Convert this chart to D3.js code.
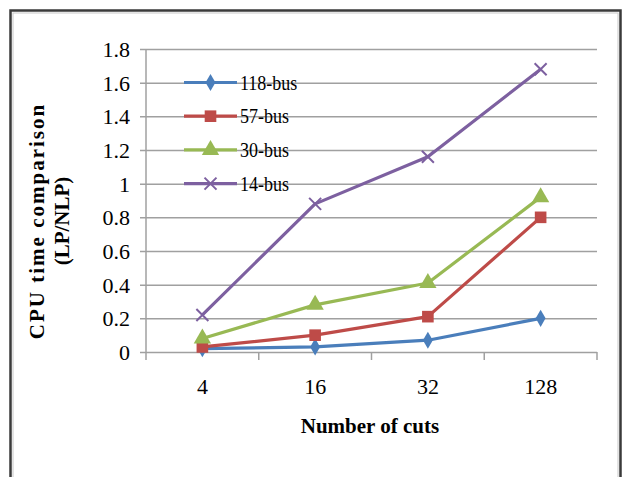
<!DOCTYPE html>
<html>
<head>
<meta charset="utf-8">
<script src="https://cdn.jsdelivr.net/npm/d3@7"></script>
<style>
  body { margin: 0; background: #fff; }
  text { font-family: "Liberation Serif", "Times New Roman", serif; fill: #000; }
</style>
</head>
<body>
<svg id="SVG_CONTAINER" width="626" height="477"></svg>
<script>
// data
const cuts = ["4", "16", "32", "128"];
const seriesNames = ["118-bus", "57-bus", "30-bus", "14-bus"];
const bus118 = [0.02, 0.03, 0.07, 0.20];
const bus57  = [0.03, 0.10, 0.21, 0.80];
const bus30  = [0.08, 0.28, 0.41, 0.92];
const bus14  = [0.22, 0.88, 1.16, 1.68];
const yTicks = [0, 0.2, 0.4, 0.6, 0.8, 1, 1.2, 1.4, 1.6, 1.8];

const MARGIN = { LEFT: 146, RIGHT: 29, TOP: 49, BOTTOM: 125 };
const width = 626, height = 477;

const colours = ["#4A7EBB", "#BE4B48", "#98B954", "#7D60A0"];
const shapes = ["diamond", "square", "triangle", "cross"];

let svg = d3.select("#SVG_CONTAINER");

// outer frame (dark line with a lighter inner line)
svg.append("rect")
    .attr("x", 10.5).attr("y", 10.5)
    .attr("width", 610).attr("height", 480)
    .attr("fill", "none")
    .attr("stroke", "#3a3a3a")
    .attr("stroke-width", 2.5);
svg.append("rect")
    .attr("x", 13).attr("y", 13)
    .attr("width", 605).attr("height", 480)
    .attr("fill", "none")
    .attr("stroke", "#c8c8c8")
    .attr("stroke-width", 1);

//** SCALES *****************************************
let xScale = d3.scaleBand()
    .domain(cuts)
    .range([MARGIN.LEFT, width - MARGIN.RIGHT]);

let yScale = d3.scaleLinear()
    .domain([0, 1.8])
    .range([height - MARGIN.BOTTOM, MARGIN.TOP]);

//** GRID + AXES *****************************************
let yAxis = d3.axisLeft(yScale)
    .tickValues(yTicks)
    .tickFormat(d3.format("~g"))
    .tickSize(-(width - MARGIN.RIGHT - MARGIN.LEFT))
    .tickPadding(16);

let yG = svg.append("g")
    .attr("transform", "translate(" + MARGIN.LEFT + ",0)")
    .call(yAxis);
yG.select(".domain").remove();
yG.selectAll(".tick line")
    .attr("x1", -6)
    .attr("stroke", "#a0a0a0")
    .attr("stroke-width", 1.5);
yG.selectAll(".tick text")
    .style("font-size", "22px")
    .style("font-family", "Liberation Serif")
    .attr("fill", "#000")
    .attr("dy", "0.34em");

// y axis line
svg.append("line")
    .attr("x1", MARGIN.LEFT).attr("x2", MARGIN.LEFT)
    .attr("y1", yScale(1.8)).attr("y2", yScale(0))
    .attr("stroke", "#a0a0a0").attr("stroke-width", 1.5);

// x axis with ticks between categories
let xAxis = d3.axisBottom(xScale).tickSize(0).tickPadding(26);
let xG = svg.append("g")
    .attr("transform", "translate(0," + yScale(0) + ")")
    .call(xAxis);
xG.select(".domain").remove();
xG.selectAll(".tick text")
    .style("font-size", "22px")
    .style("font-family", "Liberation Serif")
    .attr("fill", "#000");

let bounds = [MARGIN.LEFT].concat(cuts.map(c => xScale(c) + xScale.bandwidth()));
svg.append("g").selectAll("line")
    .data(bounds)
    .enter().append("line")
    .attr("x1", d => d).attr("x2", d => d)
    .attr("y1", yScale(0)).attr("y2", yScale(0) + 8)
    .attr("stroke", "#a0a0a0").attr("stroke-width", 1.5);

//** AXIS TITLES *****************************************
svg.append("text")
    .attr("text-anchor", "middle")
    .attr("x", 370).attr("y", 433)
    .style("font-size", "21px")
    .style("font-weight", "bold")
    .text("Number of cuts");

let yTitle = svg.append("text")
    .attr("text-anchor", "middle")
    .attr("transform", "translate(44,221) rotate(-90)")
    .style("font-size", "21px")
    .style("font-weight", "bold");
yTitle.append("tspan")
    .attr("x", 0).attr("y", 0)
    .style("letter-spacing", "2px")
    .text("CPU time comparison");
yTitle.append("tspan")
    .attr("x", 0).attr("y", 25)
    .text("(LP/NLP)");

//** SERIES *****************************************
let allSeries = [bus118, bus57, bus30, bus14];
let cx = c => xScale(c) + xScale.bandwidth() / 2;

function drawMarker(g, shape, colour, x, y) {
    if (shape === "cross") {
        g.append("path")
            .attr("d", "M" + (x - 6) + "," + (y - 6) + "L" + (x + 6) + "," + (y + 6) +
                       "M" + (x - 6) + "," + (y + 6) + "L" + (x + 6) + "," + (y - 6))
            .attr("stroke", colour).attr("stroke-width", 2).attr("fill", "none");
        return;
    }
    let sym = shape === "diamond" ? d3.symbolDiamond : shape === "square" ? d3.symbolSquare : d3.symbolTriangle;
    let size = shape === "diamond" ? 85 : shape === "square" ? 135 : 130;
    g.append("path")
        .attr("d", d3.symbol().type(sym).size(size)())
        .attr("transform", "translate(" + x + "," + y + ")")
        .attr("fill", colour);
}

let line = d3.line()
    .x((d, i) => cx(cuts[i]))
    .y(d => yScale(d));

allSeries.forEach(function (vals, s) {
    let g = svg.append("g").attr("class", "series");
    g.append("path")
        .datum(vals)
        .attr("d", line)
        .attr("fill", "none")
        .attr("stroke", colours[s])
        .attr("stroke-width", 3.2)
        .attr("stroke-linejoin", "round");
    vals.forEach(function (v, i) {
        drawMarker(g, shapes[s], colours[s], cx(cuts[i]), yScale(v));
    });
});

//** LEGEND *****************************************
seriesNames.forEach(function (name, s) {
    let ly = 82.5 + s * 33.7;
    let g = svg.append("g").attr("class", "legend");
    g.append("line")
        .attr("x1", 184).attr("x2", 237)
        .attr("y1", ly).attr("y2", ly)
        .attr("stroke", colours[s]).attr("stroke-width", 3.2);
    drawMarker(g, shapes[s], colours[s], 210.5, ly);
    g.append("text")
        .attr("transform", "translate(240," + (ly + 7) + ") scale(0.9,1)")
        .style("font-size", "20px")
        .text(name);
});
</script>
</body>
</html>
